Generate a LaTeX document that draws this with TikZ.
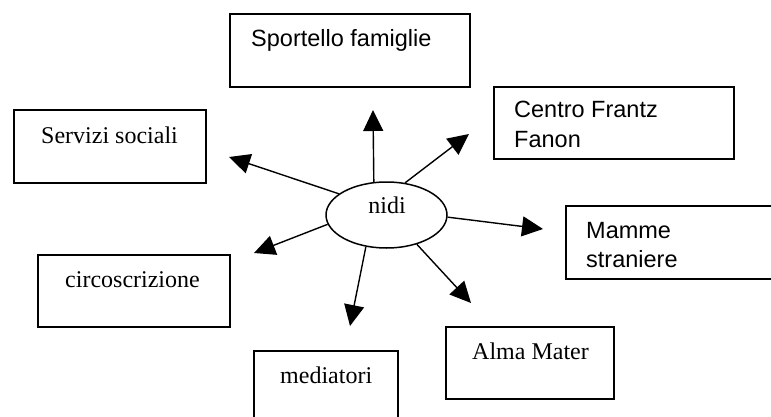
\documentclass[tikz,border=0pt]{standalone}
\usepackage{fontspec}
\setmainfont{Liberation Serif}
\newfontfamily\arialfont{Liberation Sans}
\usetikzlibrary{shapes.geometric,arrows.meta}

\begin{document}
\begin{tikzpicture}[x=1pt,y=-1pt,
  box/.style={draw,line width=1.6pt,rectangle,inner sep=0pt,anchor=north west},
  serif/.style={font=\fontsize{24}{28}\selectfont,inner sep=0pt,anchor=base west},
  sans/.style={font=\arialfont\fontsize{23.5}{29}\selectfont,inner sep=0pt,anchor=base west,align=left},
  link/.style={line width=1.4pt,-{Triangle[length=21pt,width=20pt]}}]
  \useasboundingbox (0,0) rectangle (771,417);
  \clip (0,0) rectangle (771,417);

  % central ellipse
  \node[draw,ellipse,line width=1.5pt,minimum width=121pt,minimum height=66pt,inner sep=0pt]
    (nidi) at (386.5,215) {};
  \node[serif,anchor=base] (niditext) at (387,213) {nidi};

  % surrounding boxes (two-line labels are placed by their last baseline)
  \node[box,minimum width=240pt,minimum height=73pt] (sportello) at (229,13) {};
  \node[sans] (sportellot) at (251,47) {Sportello famiglie};

  \node[box,minimum width=192pt,minimum height=73pt] (servizi) at (13,109) {};
  \node[serif] (servizit) at (41,143) {Servizi sociali};

  \node[box,minimum width=192pt,minimum height=72pt] (circo) at (37,254) {};
  \node[serif] (circot) at (65,287) {circoscrizione};

  \node[box,minimum width=240pt,minimum height=72pt] (centro) at (493,86) {};
  \node[sans] (centrot) at (514,147) {Centro Frantz\\Fanon};

  \node[box,minimum width=230pt,minimum height=73pt] (mamme) at (565,205) {};
  \node[sans] (mammet) at (586,267) {Mamme\\straniere};

  \node[box,minimum width=144pt,minimum height=100pt] (mediatori) at (253,350) {};
  \node[serif] (mediatorit) at (280,383) {mediatori};

  \node[box,minimum width=168pt,minimum height=72pt] (alma) at (445,326) {};
  \node[serif] (almat) at (472,359) {Alma Mater};

  % arrow tips
  \coordinate (tipsportello) at (373,110);
  \coordinate (tipservizi) at (229,157);
  \coordinate (tipcirco) at (254,253);
  \coordinate (tipcentro) at (469,134);
  \coordinate (tipmamme) at (543,229);
  \coordinate (tipmediatori) at (350,326);
  \coordinate (tipalma) at (471,303);

  \draw[link] (nidi.111) -- (tipsportello);
  \draw[link] (nidi.156) -- (tipservizi);
  \draw[link] (nidi.189) -- (tipcirco);
  \draw[link] (nidi.60) -- (tipcentro);
  \draw[link] (nidi.-2) -- (tipmamme);
  \draw[link] (nidi.237) -- (tipmediatori);
  \draw[link] (nidi.-44) -- (tipalma);
\end{tikzpicture}
\end{document}
